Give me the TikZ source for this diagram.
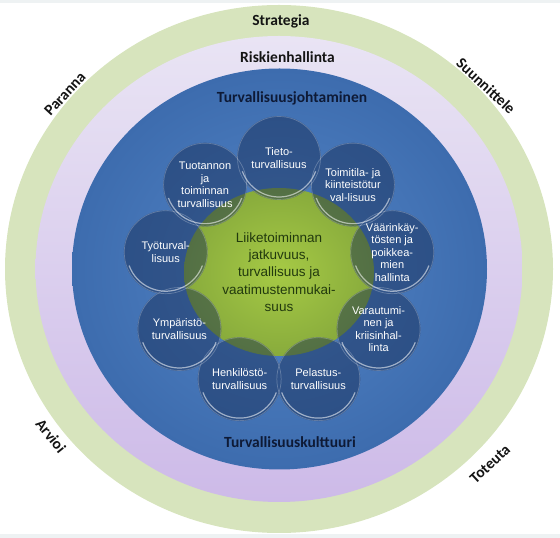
\documentclass[tikz,border=0pt]{standalone}
\usepackage{fontspec}
\setmainfont{Liberation Sans}
\newfontfamily\carlito{Carlito}
\usetikzlibrary{calc}
\definecolor{stripgray}{HTML}{EEF2F3}
\definecolor{ringgreen}{HTML}{D7E4BD}
\definecolor{lavtop}{HTML}{E9E4F4}
\definecolor{lavbot}{HTML}{CDBAE8}
\definecolor{bluein}{HTML}{5385C7}
\definecolor{blueout}{HTML}{3D6CAE}
\definecolor{greenin}{HTML}{A6CA45}
\definecolor{greenout}{HTML}{88AB3C}
\definecolor{bubnavy}{HTML}{14284F}
\definecolor{titleblack}{HTML}{141414}
\definecolor{titlenavy}{HTML}{0E1A36}
\definecolor{centertext}{HTML}{223A0E}
\newcommand\ringfont{\carlito\bfseries\fontsize{15.5}{18}\selectfont}
\newcommand\bubfont{\fontsize{11}{12.5}\selectfont}
\newcommand\midfont{\fontsize{13.5}{17.3}\selectfont}
\begin{document}
\begin{tikzpicture}[x=1pt,y=1pt,
  title/.style={font=\ringfont, text=titleblack, anchor=base, inner sep=0},
  ringlbl/.style={font=\ringfont, text=titleblack, inner sep=0},
  bub/.style={align=center, text=white, font=\bubfont, inner sep=0},
  centertxt/.style={align=center, text=centertext, font=\midfont, inner sep=0},
  rimfaint/.style={white, opacity=0.25, line width=0.7},
  rimgloss/.style={white, opacity=0.55, line width=1.2}]
\useasboundingbox (0,0) rectangle (560,538);
\fill[stripgray] (0,0) rectangle (560,4);
\fill[stripgray] (0,535) rectangle (560,538);
\coordinate (O) at (279,269);
\coordinate (C) at (279,266);
% rings
\fill[ringgreen] (O) ellipse [x radius=274, y radius=264];
\shade[top color=lavtop, bottom color=lavbot] (O) ellipse [x radius=243.5, y radius=233];
\shade[inner color=bluein, outer color=blueout] (279.5,269) ellipse [x radius=207.5, y radius=200.5];
\shade[inner color=greenin, outer color=greenout] (C) ellipse [x radius=95, y radius=84];
% bubbles
\foreach \n/\a in {1/90,2/50,3/10,4/-30,5/-70,6/-110,7/-150,8/170,9/130}
  \coordinate (c\n) at ($(C)+(\a:115 and 114)$);
\begin{scope}[transparency group, opacity=0.45]
  \foreach \n in {1,...,9} \fill[bubnavy] (c\n) circle (42);
\end{scope}
\foreach \n in {1,...,9} {
  \draw[rimfaint] (c\n) circle (41.5);
  \draw[rimgloss] ($(c\n)+(200:39)$) arc[start angle=200, end angle=340, radius=39];
}
\node[bub] (t1) at (c1) {Tieto-\\turvallisuus};
\node[bub] (t2) at (c2) {Toimitila- ja\\kiinteistötur\\val-lisuus};
\node[bub] (t3) at (c3) {Väärinkäy-\\tösten ja\\poikkea-\\mien\\hallinta};
\node[bub] (t4) at (c4) {Varautumi-\\nen ja\\kriisinhal-\\linta};
\node[bub] (t5) at (c5) {Pelastus-\\turvallisuus};
\node[bub] (t6) at (c6) {Henkilöstö-\\turvallisuus};
\node[bub] (t7) at (c7) {Ympäristö-\\turvallisuus};
\node[bub] (t8) at (c8) {Työturval-\\lisuus};
\node[bub] (t9) at (c9) {Tuotannon\\ja\\toiminnan\\turvallisuus};
\node[centertxt] (mid) at (C) {Liiketoiminnan\\jatkuvuus,\\turvallisuus ja\\vaatimustenmukai-\\suus};
% titles
\node[title] (strat) at (281,512) {Strategia};
\node[title] (risk) at (287.5,475) {Riskienhallinta};
\node[title, text=titlenavy] (tj) at (292,435) {Turvallisuusjohtaminen};
\node[title, text=titlenavy] (tk) at (290,90) {Turvallisuuskulttuuri};
% ring labels
\node[ringlbl, rotate=47] (par) at (65,444) {Paranna};
\node[ringlbl, rotate=-43] (suu) at (486,452) {Suunnittele};
\node[ringlbl, rotate=-51] (arv) at (51,102) {Arvioi};
\node[ringlbl, rotate=43] (tot) at (490,74) {Toteuta};
\end{tikzpicture}
\end{document}
